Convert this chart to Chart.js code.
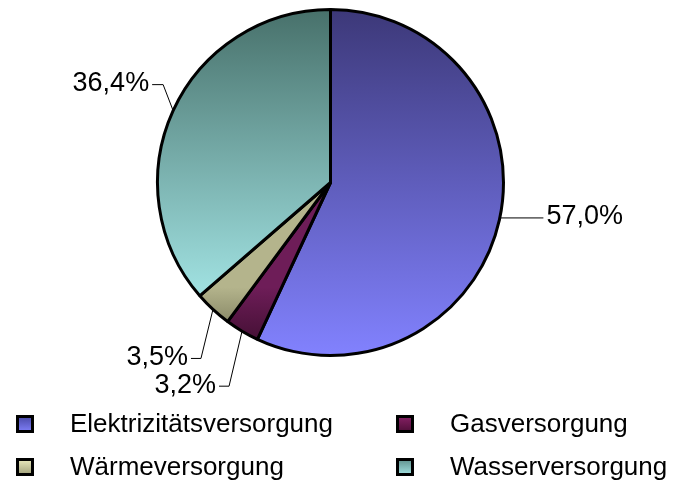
<!DOCTYPE html>
<html>
<head>
<meta charset="utf-8">
<script src="https://cdn.jsdelivr.net/npm/chart.js@4"></script>
<style>
  body { margin: 0; background: #fff; }
  #wrap { width: 674px; height: 486px; }
</style>
</head>
<body>
<div id="wrap"><canvas id="myChart" width="674" height="486"></canvas></div>
<script>
const categories = ['Elektrizitätsversorgung', 'Gasversorgung', 'Wärmeversorgung', 'Wasserversorgung'];
const shares = [57.0, 3.2, 3.5, 36.4];

// slice fill: [top colour, bottom colour, start fraction, end fraction] of chart area height
const sliceFill = [
  ['#3c3878', '#8282ff', 0, 1],
  ['#6e1d58', '#380c2a', 0.8, 1],
  ['#b4b48c', '#6e6e50', 0.8, 0.97],
  ['#47706a', '#a4e6e6', 0, 0.85]
];
const boxFill = [
  ['#4444a0', '#8484ff'],
  ['#8a2268', '#4a0c34'],
  ['#f0f0c4', '#9a9a74'],
  ['#5a8a86', '#a8e8e8']
];
// leader line: elbow and end offsets from the slice's outer mid point
const leaders = [
  { elbow: [0, -2], end: [44, -2], align: 'left' },
  { elbow: [-13, 55], end: [-23, 55], align: 'right' },
  { elbow: [-12, 49], end: [-22, 49], align: 'right' },
  { elbow: [-10, -26], end: [-21, -26], align: 'right' }
];

const fmt = v => v.toFixed(1).replace('.', ',') + '%';

const pieLabels = {
  id: 'pieLabels',
  afterDatasetsDraw(chart) {
    const c = chart.ctx;
    const arcs = chart.getDatasetMeta(0).data;
    c.save();
    c.font = '27px "Liberation Sans", Arial, sans-serif';
    c.textBaseline = 'middle';
    c.fillStyle = '#000';
    c.strokeStyle = '#000';
    c.lineWidth = 1;
    arcs.forEach((arc, i) => {
      const p = arc.getProps(['x', 'y', 'startAngle', 'endAngle', 'outerRadius'], true);
      const mid = (p.startAngle + p.endAngle) / 2;
      const ex = p.x + Math.cos(mid) * p.outerRadius;
      const ey = p.y + Math.sin(mid) * p.outerRadius;
      const L = leaders[i];
      const bx = ex + L.elbow[0], by = ey + L.elbow[1];
      const tx = ex + L.end[0], ty = ey + L.end[1];
      c.beginPath();
      c.moveTo(ex, ey);
      c.lineTo(bx, by);
      c.lineTo(tx, ty);
      c.stroke();
      c.textAlign = L.align;
      c.fillText(fmt(shares[i]), L.align === 'left' ? tx + 3 : tx - 3, ty - 1);
    });
    c.restore();
  }
};

const boxLegend = {
  id: 'boxLegend',
  afterDraw(chart) {
    const c = chart.ctx;
    const cols = [16, 396];
    const rows = [424, 467];
    c.save();
    c.font = '26px "Liberation Sans", Arial, sans-serif';
    c.textBaseline = 'middle';
    c.textAlign = 'left';
    categories.forEach((name, i) => {
      const x = cols[i % 2], y = rows[Math.floor(i / 2)];
      const g = c.createLinearGradient(0, y - 9, 0, y + 9);
      g.addColorStop(0, boxFill[i][0]);
      g.addColorStop(1, boxFill[i][1]);
      c.fillStyle = g;
      c.fillRect(x, y - 9, 18, 18);
      c.strokeStyle = '#000';
      c.lineWidth = 3;
      c.strokeRect(x + 1.5, y - 7.5, 15, 15);
      c.fillStyle = '#000';
      c.fillText(name, x + 54, y + 1);
    });
    c.restore();
  }
};

new Chart(document.getElementById('myChart'), {
  type: 'pie',
  data: {
    labels: categories,
    datasets: [{
      data: shares,
      borderColor: '#000',
      borderWidth: 3,
      backgroundColor(ctx) {
        const area = ctx.chart.chartArea;
        if (!area) return '#888';
        const f = sliceFill[ctx.dataIndex];
        const h = area.bottom - area.top;
        const g = ctx.chart.ctx.createLinearGradient(0, area.top + f[2] * h, 0, area.top + f[3] * h);
        g.addColorStop(0, f[0]);
        g.addColorStop(1, f[1]);
        return g;
      }
    }]
  },
  plugins: [pieLabels, boxLegend],
  options: {
    responsive: false,
    animation: false,
    layout: { padding: { top: 8, bottom: 129, left: 156, right: 169 } },
    plugins: {
      legend: { display: false },
      tooltip: { enabled: false }
    }
  }
});
</script>
</body>
</html>
